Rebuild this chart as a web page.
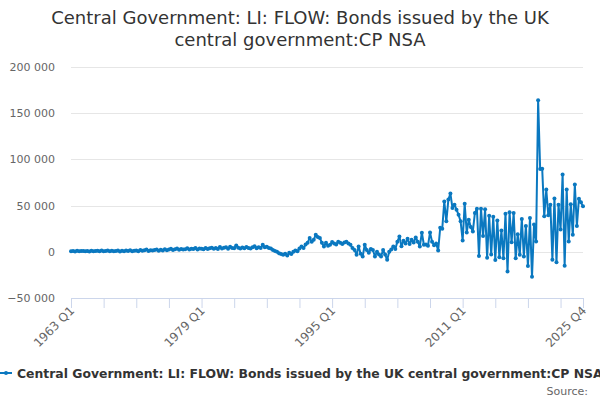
<!DOCTYPE html>
<html>
<head>
<meta charset="utf-8">
<script src="https://cdn.jsdelivr.net/npm/d3@7"></script>
<style>
  body { margin: 0; background: #fff; }
  svg { display: block; font-family: "DejaVu Sans", sans-serif; }
  .title { font-size: 18px; fill: #333; }
  .grid line { stroke: #e6e6e6; }
  .y-label { font-size: 11px; fill: #666; }
  .legend-text { font-size: 12.4px; font-weight: bold; fill: #333; }
  .source { font-size: 11px; fill: #666; }
</style>
</head>
<body>
<div id="chart"></div>
<script>
// data
const startYear = 1963;
const endYear = 2025;

const titleLines = [
  "Central Government: LI: FLOW: Bonds issued by the UK",
  "central government:CP NSA",
];
const seriesName =
  "Central Government: LI: FLOW: Bonds issued by the UK central government:CP NSA";

// quarterly values, one row per year (Q1..Q4)
const values = [
  600, 900, 400, 1100, // 1963
  500, 800, 1000, 600,
  900, 400, 1200, 700,
  800, 1100, 500, 1300,
  600, 1000, 1400, 700,
  1200, 500, 900, 1500,
  300, 1100, 700, 1300,
  900, 1600, 600, 1200, // 1970
  1400, 700, 2000, 1100,
  1600, 2400, 900, 1800,
  1300, 2000, 2600, 1200,
  2200, 1500, 2800, 1800,
  2500, 3200, 1900, 2800,
  3500, 2200, 3000, 2500,
  2800, 3800, 2400, 3400,
  3100, 4000, 2600, 3700,
  3300, 2800, 4200, 3000,
  3800, 4500, 3200, 4100, // 1980
  3000, 5200, 3600, 4300,
  4800, 3300, 5500, 4000,
  3900, 6900, 4400, 3600,
  4600, 3800, 5200, 4200,
  3500, 4800, 6000, 3900,
  5000, 4200, 7600, 4800,
  5500, 4000, 3500, 2000,
  1000, 0, -1500, -2500,
  -3300, -2000, -4000, -1000,
  -2500, 0, 1500, 500, // 1990
  3500, 5800, 4000, 8000,
  9700, 15000, 11000, 13000,
  18500, 16000, 15000, 9700,
  5800, 9700, 6500, 7600,
  10500, 9000, 8000, 11000,
  9700, 8500, 10000, 11000,
  9000, 7600, 4000, 2000,
  -3300, 5800, -2000, -5000,
  7600, 2000, -1000, 3000,
  2000, -5000, 0, -3000, // 2000
  -5000, 2000, -3000, -8700,
  0, 2500, 5800, 3000,
  11000, 16500, 6000, 12000,
  9000, 14000, 8500, 13000,
  10000, 15500, 11000, 5800,
  20600, 7600, 8000, 6500,
  21000, 11000, 7000, 9000,
  1400, 26000, 25000, 54500,
  33000, 56500, 63000, 47500,
  51000, 45600, 40000, 33000, // 2010
  12300, 52000, 21000, 34800,
  26800, 22000, 42000, 46500,
  -4500, 46500, 17000, 46000,
  -6500, 39000, -3000, 38000,
  -9000, 34000, -6000, 23000,
  -7000, 41300, -21400, 42700,
  10300, 42000, -7000, 19000,
  -3300, 35500, -5000, 28000,
  -15500, 36600, -27000, 29500,
  11200, 164000, 89500, 89900, // 2020
  38400, 67400, 39500, 51000,
  -8700, 57800, -11400, 51000,
  24000, 83700, -15000, 67400,
  11200, 51500, 18500, 72800,
  28000, 57300, 53500, 49200, // 2025
];

const yTicks = [-50000, 0, 50000, 100000, 150000, 200000];
const labelEvery = 64;
const tickEvery = 16;

const quarters = d3.range(startYear, endYear + 1).flatMap((y) =>
  [1, 2, 3, 4].map((q) => `${y} Q${q}`)
);
const data = quarters.map((q, i) => ({ label: q, value: values[i] }));

//size
const width = 600;
const height = 400;
const margin = { top: 67, right: 17, bottom: 102, left: 71 };

//scale
const xScale = d3
  .scalePoint()
  .domain(quarters)
  .range([margin.left, width - margin.right]);

const yScale = d3
  .scaleLinear()
  .domain([-50000, 200000])
  .range([height - margin.bottom, margin.top]);

const fmt = (d) => d3.format(",")(d).replace(/,/g, " ");

//create element
const svg = d3
  .select("#chart")
  .append("svg")
  .attr("width", width)
  .attr("height", height);

//title
svg
  .append("text")
  .attr("class", "title")
  .attr("text-anchor", "middle")
  .selectAll("tspan")
  .data(titleLines)
  .join("tspan")
  .attr("x", width / 2)
  .attr("y", (d, i) => 24 + i * 22)
  .text((d) => d);

//grid + y labels
const grid = svg.append("g").attr("class", "grid");
grid
  .selectAll("line")
  .data(yTicks.filter((d) => d !== -50000))
  .join("line")
  .attr("x1", margin.left)
  .attr("x2", width - margin.right)
  .attr("y1", (d) => Math.round(yScale(d)) + 0.5)
  .attr("y2", (d) => Math.round(yScale(d)) + 0.5);

svg
  .selectAll("text.y-label")
  .data(yTicks)
  .join("text")
  .attr("class", "y-label")
  .attr("text-anchor", "end")
  .attr("x", margin.left - 16)
  .attr("y", (d) => yScale(d) + 4)
  .text((d) => fmt(d));

//x axis
const xTickValues = quarters.filter(
  (d, i) => i % tickEvery === 0 || i === quarters.length - 1
);
const xLabelValues = quarters.filter(
  (d, i) => i % labelEvery === 0 || i === quarters.length - 1
);

const xAxis = d3
  .axisBottom(xScale)
  .tickValues(xTickValues)
  .tickSize(10)
  .tickFormat((d) => (xLabelValues.includes(d) ? d : ""));

const gx = svg
  .append("g")
  .attr("transform", `translate(0,${height - margin.bottom})`)
  .call(xAxis);

gx.select(".domain").attr("stroke", "#ccd6eb");
gx.selectAll(".tick line").attr("stroke", "#ccd6eb");
gx.selectAll(".tick text")
  .attr("dy", null)
  .attr("x", -7)
  .attr("y", 12)
  .attr("text-anchor", "end")
  .attr("transform", "rotate(-45)")
  .style("font-family", '"DejaVu Sans", sans-serif')
  .style("font-size", "12px")
  .style("fill", "#666");

//line
const color = "#0a78c0";
const line = d3
  .line()
  .x((d) => xScale(d.label))
  .y((d) => yScale(d.value));

svg
  .append("path")
  .datum(data)
  .attr("fill", "none")
  .attr("stroke", color)
  .attr("stroke-width", 2)
  .attr("stroke-linejoin", "round")
  .attr("d", line);

svg
  .selectAll("circle.dot")
  .data(data)
  .join("circle")
  .attr("class", "dot")
  .attr("cx", (d) => xScale(d.label))
  .attr("cy", (d) => yScale(d.value))
  .attr("r", 2)
  .attr("fill", color);

//legend
const legend = svg.append("g").attr("transform", "translate(0,373)");
legend
  .append("line")
  .attr("x1", 0)
  .attr("x2", 12)
  .attr("stroke", color)
  .attr("stroke-width", 2);
legend.append("circle").attr("cx", 6).attr("r", 2).attr("fill", color);
legend
  .append("text")
  .attr("class", "legend-text")
  .attr("x", 17)
  .attr("y", 4.5)
  .text(seriesName);

//source
svg
  .append("text")
  .attr("class", "source")
  .attr("text-anchor", "end")
  .attr("x", 588)
  .attr("y", 395)
  .text("Source:");
</script>
</body>
</html>
